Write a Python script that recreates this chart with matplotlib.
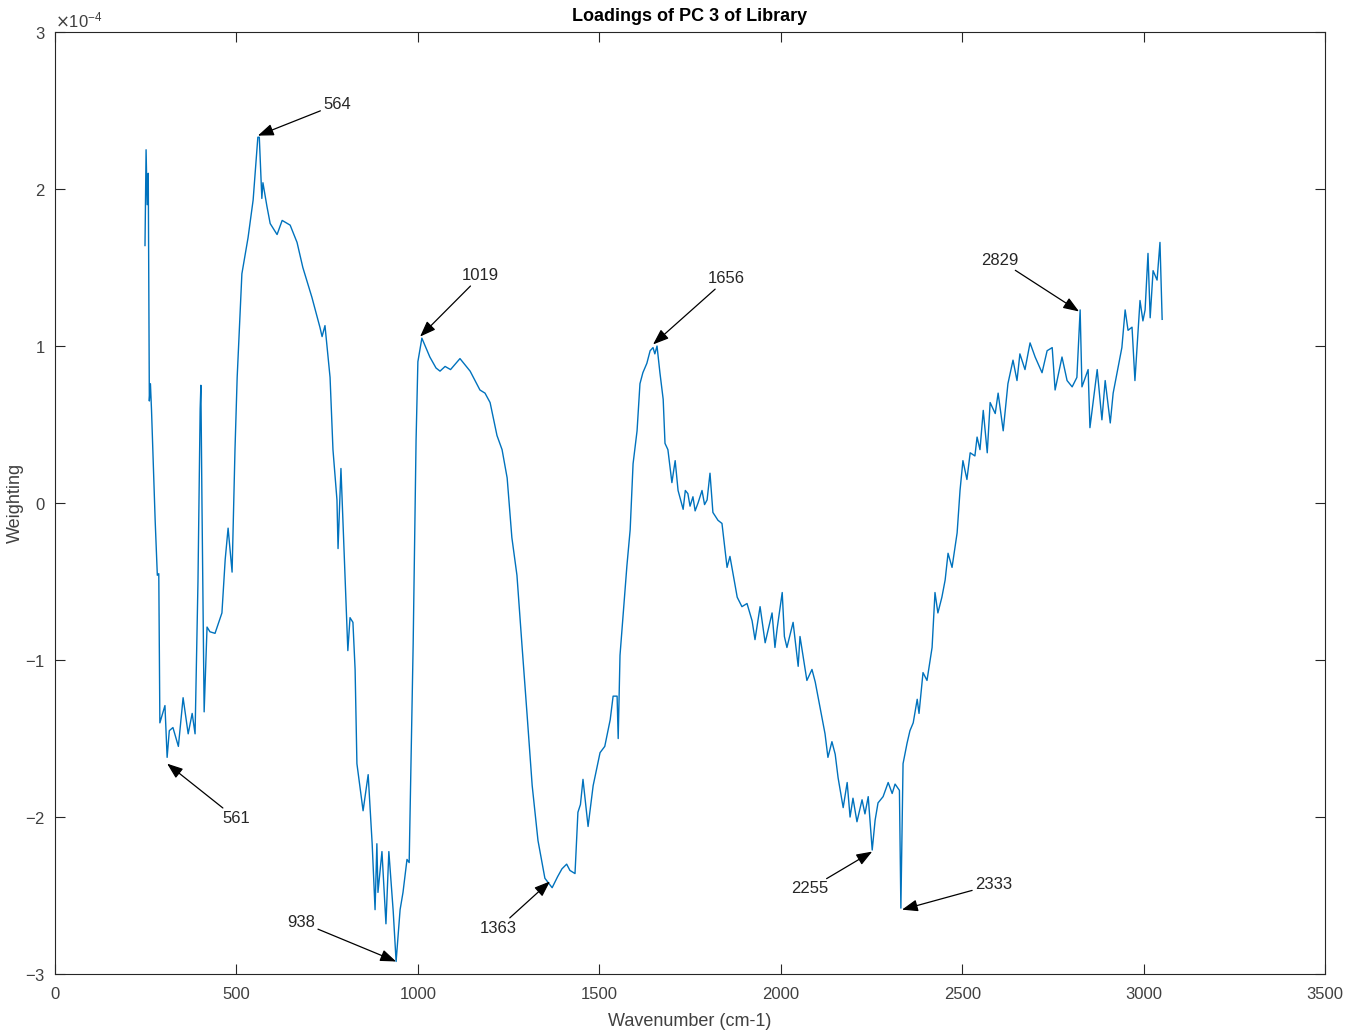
import matplotlib
matplotlib.use("Agg")
import matplotlib.pyplot as plt
import numpy as np

plt.rcParams['font.family'] = ['Liberation Sans', 'DejaVu Sans']
plt.rcParams['axes.unicode_minus'] = False

# spectrum (weighting in units of 1e-4)
wavenumber = [
    248, 251, 254, 257, 260, 263, 266, 276, 282, 286, 289, 303, 309, 315, 325, 340,
    353, 367, 378, 386, 394, 400, 402, 405, 411, 419, 427, 441, 460, 469, 477, 488,
    496, 502, 515, 532, 546, 559, 563, 570, 573, 584, 593, 612, 626, 648, 667, 683,
    708, 730, 736, 744, 758, 766, 777, 780, 788, 799, 807, 813, 821, 827, 832, 849,
    863, 874, 882, 887, 890, 901, 912, 920, 932, 940, 951, 959, 970, 976, 987, 995,
    1000, 1011, 1033, 1050, 1061, 1075, 1090, 1116, 1130, 1144, 1171, 1185, 1199, 1218,
    1232, 1246, 1259, 1273, 1287, 1301, 1315, 1331, 1350, 1370, 1385, 1397, 1410, 1419,
    1433, 1441, 1448, 1455, 1469, 1483, 1502, 1515, 1530, 1538, 1549, 1552, 1557, 1576,
    1585, 1593, 1604, 1612, 1620, 1631, 1640, 1648, 1653, 1659, 1667, 1676, 1681, 1689,
    1700, 1709, 1717, 1731, 1737, 1744, 1750, 1758, 1764, 1772, 1783, 1790, 1797, 1805,
    1813, 1827, 1838, 1852, 1860, 1880, 1893, 1907, 1921, 1929, 1943, 1957, 1976, 1984,
    1990, 2004, 2010, 2017, 2034, 2048, 2053, 2072, 2086, 2095, 2108, 2122, 2130, 2141,
    2150, 2158, 2172, 2183, 2191, 2199, 2210, 2224, 2232, 2241, 2252, 2260, 2268, 2282,
    2296, 2307, 2315, 2327, 2331, 2337, 2348, 2356, 2365, 2376, 2381, 2392, 2403, 2417,
    2425, 2433, 2444, 2453, 2461, 2472, 2486, 2494, 2502, 2513, 2522, 2535, 2541, 2549,
    2558, 2569, 2577, 2591, 2599, 2613, 2626, 2640, 2651, 2659, 2673, 2687, 2701, 2720,
    2734, 2748, 2756, 2775, 2789, 2803, 2816, 2825, 2830, 2847, 2852, 2872, 2885, 2894,
    2908, 2916, 2930, 2940, 2949, 2957, 2968, 2976, 2990, 2998, 3004, 3012, 3018, 3026,
    3037, 3045, 3051,
]
weighting_e4 = [
    1.64, 2.25, 1.90, 2.10, 0.65, 0.76, 0.59, -0.11, -0.46, -0.45, -1.40, -1.29, -1.62, -1.45, -1.43, -1.55,
    -1.24, -1.47, -1.34, -1.47, -0.50, 0.60, 0.75, 0.00, -1.33, -0.79, -0.82, -0.83, -0.70, -0.36, -0.16, -0.44,
    0.34, 0.80, 1.46, 1.69, 1.93, 2.33, 2.33, 1.94, 2.04, 1.89, 1.78, 1.71, 1.80, 1.77, 1.66, 1.50,
    1.31, 1.12, 1.06, 1.13, 0.80, 0.34, 0.02, -0.29, 0.22, -0.46, -0.94, -0.73, -0.76, -1.06, -1.66, -1.96,
    -1.73, -2.17, -2.59, -2.17, -2.48, -2.22, -2.68, -2.22, -2.60, -2.92, -2.59, -2.48, -2.27, -2.29, -0.90, 0.40,
    0.90, 1.05, 0.93, 0.86, 0.84, 0.87, 0.85, 0.92, 0.88, 0.84, 0.72, 0.70, 0.64, 0.43,
    0.34, 0.16, -0.22, -0.46, -0.91, -1.35, -1.80, -2.15, -2.39, -2.45, -2.38, -2.33, -2.30, -2.34,
    -2.36, -1.97, -1.92, -1.76, -2.06, -1.80, -1.59, -1.55, -1.38, -1.23, -1.23, -1.50, -0.97, -0.40,
    -0.17, 0.25, 0.46, 0.76, 0.83, 0.89, 0.97, 0.99, 0.95, 1.00, 0.83, 0.66, 0.38, 0.34,
    0.13, 0.27, 0.08, -0.04, 0.08, 0.06, -0.02, 0.04, -0.05, 0.00, 0.08, -0.01, 0.02, 0.19,
    -0.06, -0.11, -0.13, -0.41, -0.34, -0.60, -0.66, -0.64, -0.75, -0.87, -0.66, -0.89, -0.70, -0.92,
    -0.80, -0.57, -0.85, -0.92, -0.76, -1.04, -0.85, -1.13, -1.06, -1.14, -1.30, -1.47, -1.62, -1.52,
    -1.60, -1.75, -1.94, -1.78, -2.00, -1.88, -2.03, -1.89, -1.98, -1.87, -2.21, -2.02, -1.91, -1.87,
    -1.78, -1.85, -1.79, -1.83, -2.58, -1.66, -1.53, -1.45, -1.40, -1.25, -1.34, -1.08, -1.13, -0.92,
    -0.57, -0.70, -0.60, -0.49, -0.32, -0.41, -0.19, 0.08, 0.27, 0.15, 0.32, 0.30, 0.42, 0.34,
    0.59, 0.32, 0.64, 0.57, 0.70, 0.46, 0.76, 0.91, 0.78, 0.95, 0.85, 1.02, 0.93, 0.83,
    0.97, 0.99, 0.72, 0.93, 0.78, 0.74, 0.80, 1.23, 0.74, 0.85, 0.48, 0.85, 0.53, 0.78,
    0.51, 0.70, 0.87, 0.99, 1.23, 1.10, 1.12, 0.78, 1.29, 1.16, 1.23, 1.59, 1.18, 1.48,
    1.42, 1.66, 1.17,
]

# annotations: label, arrow head (x, y), text position (x, y)
peak_labels = ['564', '561', '938', '1019', '1363', '1656', '2255', '2333', '2829']
head_x = [559, 309, 940, 1006, 1364, 1648, 2252, 2334, 2822]
head_y = [2.34, -1.66, -2.92, 1.06, -2.41, 1.01, -2.22, -2.59, 1.22]
text_x = [739, 460, 717, 1122, 1273, 1800, 2130, 2535, 2654]
text_y = [2.54, -1.96, -2.67, 1.40, -2.66, 1.38, -2.41, -2.43, 1.50]
text_ha = ['left', 'left', 'right', 'left', 'right', 'left', 'right', 'left', 'right']
text_va = ['center', 'top', 'center', 'bottom', 'top', 'bottom', 'top', 'center', 'bottom']

x = np.array(wavenumber)
y = np.array(weighting_e4) * 1e-4

fig = plt.figure(figsize=(13.48, 10.36), dpi=100)
ax = fig.add_axes([0.0408, 0.0598, 0.9422, 0.9093])
ax.plot(x, y, color='#0072BD', lw=1.0)

for lab, hx, hy, tx, ty, ha, va in zip(peak_labels, head_x, head_y, text_x, text_y, text_ha, text_va):
    ax.annotate(lab, xy=(hx, hy * 1e-4), xytext=(tx, ty * 1e-4), ha=ha, va=va,
                fontsize=12, color='#262626',
                arrowprops=dict(arrowstyle='-|>,head_length=0.8,head_width=0.3',
                                color='k', lw=0.9, shrinkA=0, shrinkB=0))

ax.set_xlim(0, 3500)
ax.set_ylim(-3e-4, 3e-4)
ax.set_xticks(np.arange(0, 3501, 500))
ax.set_yticks(np.arange(-3, 3.1, 1) * 1e-4)
ax.ticklabel_format(axis='y', style='sci', scilimits=(0, 0), useMathText=True)
ax.yaxis.get_offset_text().set_fontsize(12)
ax.yaxis.get_offset_text().set_color('#404040')
ax.tick_params(direction='in', top=True, right=True, labelsize=12, colors='#262626',
               labelcolor='#404040', length=7, width=0.8)
ax.tick_params(axis='x', pad=9)
ax.tick_params(axis='y', pad=7)
for s in ax.spines.values():
    s.set_color('#262626')
    s.set_linewidth(0.8)

ax.set_xlabel('Wavenumber (cm-1)', fontsize=13, color='#404040', labelpad=8)
ax.set_ylabel('Weighting', fontsize=13, color='#404040', labelpad=1)
ax.set_title('Loadings of PC 3 of Library', fontsize=13, fontweight='bold', pad=8)

fig.savefig('out.png', dpi=100)
